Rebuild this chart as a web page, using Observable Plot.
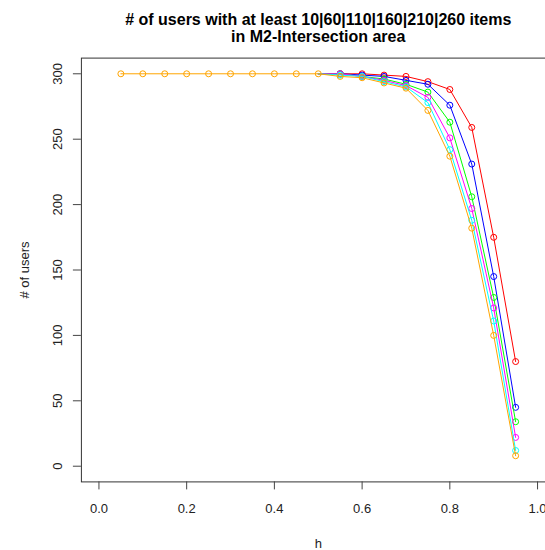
<!DOCTYPE html>
<html>
<head>
<meta charset="utf-8">
<script src="https://cdn.jsdelivr.net/npm/d3@7"></script>
<script src="https://cdn.jsdelivr.net/npm/@observablehq/plot@0.6"></script>
<style>
  html, body { margin: 0; padding: 0; background: #fff; overflow: hidden; }
  #chart svg { overflow: hidden !important; display: block; }
</style>
</head>
<body>
<div id="chart"></div>
<script>
// h values (x)
const h = [0.05, 0.10, 0.15, 0.20, 0.25, 0.30, 0.35, 0.40, 0.45, 0.50,
           0.55, 0.60, 0.65, 0.70, 0.75, 0.80, 0.85, 0.90, 0.95];

// # of users with at least N items (null = not drawn, hidden under the 260 series)
const users10  = [null,null,null,null,null,null,null,null,null,300, 300,300,299,298,294,288,259,175,80];
const users60  = [null,null,null,null,null,null,null,null,null,300, 300,299,298,295,292,276,231,145,45];
const users110 = [null,null,null,null,null,null,null,null,null,300, 300,298,296,292,286,263,206,129,34];
const users160 = [null,null,null,null,null,null,null,null,null,300, 300,298,295,291,282,251,197,121,22];
const users210 = [null,null,null,null,null,null,null,null,null,300, 299,298,294,290,278,242,188,111,12];
const users260 = [300,300,300,300,300,300,300,300,300,300, 298,297,293,289,272,237,182,100,8];

const seriesNames  = ["10", "60", "110", "160", "210", "260"];
const seriesValues = [users10, users60, users110, users160, users210, users260];
const seriesColors = ["#FF0000", "#0000FF", "#00FF00", "#FF00FF", "#00FFFF", "#FFA500"];

const xTicks = [0, 0.2, 0.4, 0.6, 0.8, 1.0];
const yTicks = [0, 50, 100, 150, 200, 250, 300];

const titleLine1 = "# of users with at least 10|60|110|160|210|260 items";
const titleLine2 = "in M2-Intersection area";
const xLabel = "h";
const yLabel = "# of users";

const W = 545, H = 550;
const mL = 80.9, mR = W - 554.6, mT = 57.6, mB = H - 481.4;

const marks = [];
seriesNames.forEach((name, i) => {
  const rows = h.map((x, j) => ({h: x, users: seriesValues[i][j], series: name}))
                .filter(d => d.users != null);
  const dots = (i === seriesNames.length - 1) ? rows : rows.filter(d => d.h > 0.5);
  marks.push(Plot.line(rows, {x: "h", y: "users", stroke: seriesColors[i], strokeWidth: 1}));
  marks.push(Plot.dot(dots, {x: "h", y: "users", stroke: seriesColors[i], fill: "none", r: 3, strokeWidth: 1}));
});

const chart = Plot.plot({
  width: W,
  height: H,
  marginLeft: mL,
  marginRight: mR,
  marginTop: mT,
  marginBottom: mB,
  style: {fontFamily: "'Liberation Sans', Arial, sans-serif", background: "#fff", overflow: "hidden"},
  x: {domain: [-0.04, 1.04], range: [mL, W - mR]},
  y: {domain: [-12, 312], range: [H - mB, mT]},
  marks: [
    ...marks,
    Plot.frame({stroke: "#333", strokeWidth: 1}),
    Plot.axisX(xTicks, {tickSize: 8, tickPadding: 14, tickFormat: d3.format(".1f"), fontSize: 13, stroke: "#444", fill: "#222", label: null}),
    Plot.axisY(yTicks, {tickSize: 8, tickPadding: 11, tickRotate: -90, tickFormat: d3.format("d"), fontSize: 13, stroke: "#444", fill: "#222", label: null}),
    Plot.text([xLabel], {text: d => d, frameAnchor: "bottom", lineAnchor: "bottom", dy: 66, fontSize: 13, fill: "#222"}),
    Plot.text([yLabel], {text: d => d, frameAnchor: "left", rotate: -90, textAnchor: "middle", lineAnchor: "middle", dx: -57, fontSize: 13, fill: "#222"}),
    Plot.text([titleLine1], {text: d => d, frameAnchor: "top", lineAnchor: "bottom", dy: 24 - mT, fontSize: 16, fontWeight: "bold", fill: "#000"}),
    Plot.text([titleLine2], {text: d => d, frameAnchor: "top", lineAnchor: "bottom", dy: 41.5 - mT, fontSize: 16, fontWeight: "bold", fill: "#000"})
  ]
});
document.getElementById("chart").appendChild(chart);
</script>
</body>
</html>
